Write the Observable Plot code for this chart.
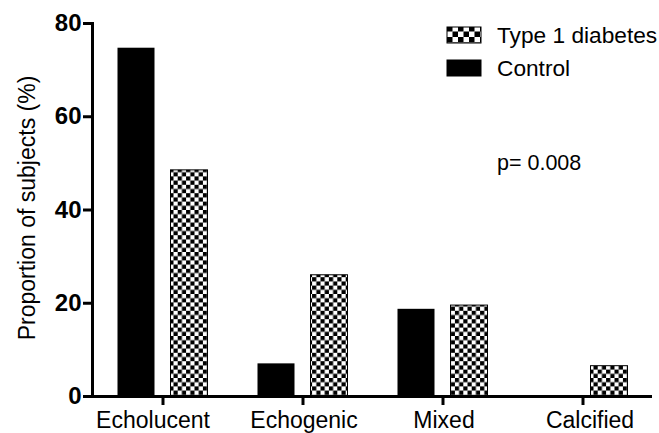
<!DOCTYPE html>
<html>
<head>
<meta charset="utf-8">
<script src="https://cdn.jsdelivr.net/npm/d3@7"></script>
<script src="https://cdn.jsdelivr.net/npm/@observablehq/plot@0.6"></script>
<style>
  html, body { margin: 0; padding: 0; background: white; }
  #chart { position: relative; width: 659px; height: 433px; }
</style>
</head>
<body>
<svg width="0" height="0" style="position:absolute">
  <defs>
    <pattern id="checker" patternUnits="userSpaceOnUse" width="8.4" height="8.4">
      <rect x="0" y="0" width="8.4" height="8.4" fill="white"/>
      <rect x="0" y="0" width="4.2" height="4.2" fill="black"/>
      <rect x="4.2" y="4.2" width="4.2" height="4.2" fill="black"/>
    </pattern>
    <pattern id="checkerLegend" patternUnits="userSpaceOnUse" width="11" height="11" x="447" y="26">
      <rect x="0" y="0" width="11" height="11" fill="white"/>
      <rect x="0" y="0" width="5.5" height="5.5" fill="black"/>
      <rect x="5.5" y="5.5" width="5.5" height="5.5" fill="black"/>
    </pattern>
  </defs>
</svg>
<div id="chart"></div>
<script>
const categories = ["Echolucent", "Echogenic", "Mixed", "Calcified"];
const controlValues = [74.7, 7.0, 18.7, 0];
const diabetesValues = [48.5, 26.0, 19.5, 6.5];
const yTicks = [0, 20, 40, 60, 80];
const seriesNames = ["Type 1 diabetes", "Control"];
const yLabel = "Proportion of subjects (%)";
const pText = "p= 0.008";

const controlData = categories.map((c, i) => ({category: c, group: "Control", value: controlValues[i]}));
const diabetesData = categories.map((c, i) => ({category: c, group: "Type 1 diabetes", value: diabetesValues[i]}));

const pad = 1 - 37 / 140;
const font = "'Liberation Sans', Arial, sans-serif";

const chart = Plot.plot({
  width: 659,
  height: 433,
  marginLeft: 92,
  marginRight: 7,
  marginTop: 23,
  marginBottom: 37,
  style: {fontFamily: font, background: "white", color: "black"},
  x: {domain: categories, paddingInner: pad, paddingOuter: pad / 2, label: null},
  y: {domain: [0, 80], ticks: yTicks, label: null},
  marks: [
    Plot.barY(controlData.filter(d => d.value > 0), {x: "category", y: "value", fill: "black", dx: -26.5}),
    Plot.barY(diabetesData, {x: "category", y: "value", fill: "url(#checker)", stroke: "black", strokeWidth: 1, dx: 26.5}),
    Plot.axisX({tickSize: 9, strokeWidth: 3, fontSize: 23, tickPadding: 6, label: null}),
    Plot.axisY({ticks: yTicks, tickSize: 9, strokeWidth: 3, fontSize: 24, fontWeight: "bold", tickPadding: 2, label: null}),
    Plot.ruleY([0], {strokeWidth: 3}),
    Plot.frame({anchor: "left", strokeWidth: 3})
  ]
});

document.getElementById("chart").appendChild(chart);

const svg = d3.select(chart);

// nudge category labels as in the original figure
const labelShift = {"Echolucent": -10, "Echogenic": 1, "Mixed": 1, "Calcified": 7};
svg.selectAll('g[aria-label="x-axis tick label"] text')
  .each(function () {
    const t = d3.select(this);
    const s = labelShift[t.text()];
    if (s) t.attr("dx", s);
  });

// y-axis title
svg.append("text")
  .attr("transform", "translate(27,208) rotate(-90)")
  .attr("text-anchor", "middle")
  .attr("dominant-baseline", "central")
  .attr("font-family", font)
  .attr("font-size", 23)
  .attr("fill", "black")
  .text(yLabel);

// legend
const legend = svg.append("g");
const fills = ["url(#checkerLegend)", "black"];
seriesNames.forEach((name, i) => {
  const y = 27 + i * 33;
  legend.append("rect")
    .attr("x", 447).attr("y", y).attr("width", 34).attr("height", 16)
    .attr("fill", fills[i]).attr("stroke", "black").attr("stroke-width", 1);
  legend.append("text")
    .attr("x", 497).attr("y", y + 8)
    .attr("text-anchor", "start")
    .attr("dominant-baseline", "central")
    .attr("font-family", font).attr("font-size", 22.7).attr("fill", "black")
    .text(name);
});

// p-value annotation
svg.append("text")
  .attr("x", 497).attr("y", 163)
  .attr("text-anchor", "start")
  .attr("dominant-baseline", "central")
  .attr("font-family", font).attr("font-size", 21.5).attr("fill", "black")
  .text(pText);
</script>
</body>
</html>
